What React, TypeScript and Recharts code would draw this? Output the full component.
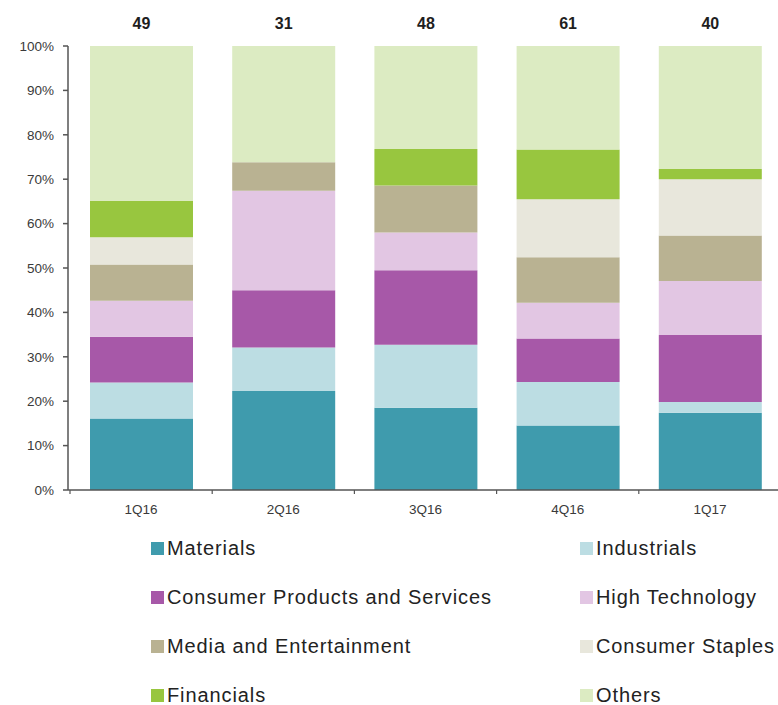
import React from "react";
import { BarChart, Bar, XAxis, YAxis, Legend, LabelList } from "recharts";

const QUARTERS = ["1Q16", "2Q16", "3Q16", "4Q16", "1Q17"];
const DEAL_COUNTS = [49, 31, 48, 61, 40];

const SERIES = [
  "Materials",
  "Industrials",
  "Consumer Products and Services",
  "High Technology",
  "Media and Entertainment",
  "Consumer Staples",
  "Financials",
  "Others",
];
const COLORS = [
  "#3f9bad",
  "#bcdde3",
  "#a758a8",
  "#e2c6e3",
  "#b9b292",
  "#e8e7dc",
  "#98c63f",
  "#dcebc2",
];

const MATERIALS = [16.1, 22.3, 18.5, 14.5, 17.4];
const INDUSTRIALS = [8.1, 9.8, 14.2, 9.8, 2.4];
const CONSUMER_PRODUCTS = [10.3, 12.9, 16.8, 9.8, 15.1];
const HIGH_TECH = [8.1, 22.4, 8.5, 8.1, 12.2];
const MEDIA = [8.2, 6.4, 10.6, 10.2, 10.2];
const CONSUMER_STAPLES = [6.1, 0, 0, 13.1, 12.7];
const FINANCIALS = [8.2, 0, 8.2, 11.2, 2.3];
const OTHERS = [34.9, 26.2, 23.2, 23.3, 27.7];

const SERIES_VALUES = [
  MATERIALS,
  INDUSTRIALS,
  CONSUMER_PRODUCTS,
  HIGH_TECH,
  MEDIA,
  CONSUMER_STAPLES,
  FINANCIALS,
  OTHERS,
];

const Y_TICKS = [0, 10, 20, 30, 40, 50, 60, 70, 80, 90, 100];

const data = QUARTERS.map((q, i) => {
  const row: Record<string, number | string> = { quarter: q, count: DEAL_COUNTS[i] };
  SERIES.forEach((s, j) => {
    row[s] = SERIES_VALUES[j][i];
  });
  return row;
});

const CHART_W = 781;
const CHART_H = 705;
const Y_AXIS_W = 68;
const X_PAD_LEFT = 2;
const BAND = (CHART_W - Y_AXIS_W - X_PAD_LEFT) / QUARTERS.length;

const FONT = "'Liberation Sans', Arial, sans-serif";

const XTick = (props: any) => {
  const { x, y, payload } = props;
  return (
    <g>
      <line x1={x - BAND / 2} x2={x - BAND / 2} y1={y} y2={y + 4} stroke="#555" strokeWidth={1.2} />
      <text x={x} y={y + 24} textAnchor="middle" fontSize={13.5} fill="#3a3a3a" fontFamily={FONT}>
        {payload.value}
      </text>
    </g>
  );
};

const TopLabel = (props: any) => {
  const { x, y, width, value } = props;
  return (
    <text
      x={x + width / 2}
      y={y - 17}
      textAnchor="middle"
      fontSize={16}
      fontWeight="bold"
      fill="#1e1e1e"
      fontFamily={FONT}
    >
      {value}
    </text>
  );
};

const LegendContent = () => (
  <div
    style={{
      display: "grid",
      gridTemplateColumns: "429px 200px",
      gridAutoRows: "49px",
      paddingLeft: 151,
      fontFamily: FONT,
      fontSize: 20,
      letterSpacing: 0.9,
      color: "#222",
    }}
  >
    {SERIES.map((s, i) => (
      <div key={s} style={{ display: "flex", alignItems: "center", whiteSpace: "nowrap" }}>
        <span
          style={{
            display: "inline-block",
            width: 13,
            height: 13,
            background: COLORS[i],
            marginRight: 3,
          }}
        />
        <span>{s}</span>
      </div>
    ))}
  </div>
);

export default function App() {
  return (
    <div style={{ width: 778, height: 705, overflow: "hidden", position: "relative", background: "#fff" }}>
      <style>{`body{margin:0}`}</style>
      <BarChart
        width={CHART_W}
        height={CHART_H}
        data={data}
        margin={{ top: 46, right: 0, left: 0, bottom: 185 }}
        barSize={103}
      >
        <XAxis
          dataKey="quarter"
          tickLine={false}
          tickSize={0}
          tickMargin={0}
          padding={{ left: X_PAD_LEFT, right: 0 }}
          axisLine={{ stroke: "#555", strokeWidth: 1.5 }}
          tick={<XTick />}
          interval={0}
        />
        <YAxis
          width={Y_AXIS_W}
          domain={[0, 100]}
          ticks={Y_TICKS}
          interval={0}
          tickFormatter={(v: number) => `${v}%`}
          tickSize={5}
          tickMargin={9}
          axisLine={{ stroke: "#555", strokeWidth: 1.5 }}
          tickLine={{ stroke: "#555", strokeWidth: 1.5 }}
          tick={{ fontSize: 13.5, fill: "#3a3a3a", fontFamily: FONT }}
        />
        <Legend
          verticalAlign="middle"
          align="center"
          layout="horizontal"
          content={<LegendContent />}
          wrapperStyle={{ position: "absolute", top: 524, left: 0, width: 778 }}
        />
        {SERIES.map((s, i) => (
          <Bar key={s} dataKey={s} stackId="a" fill={COLORS[i]} isAnimationActive={false}>
            {i === SERIES.length - 1 ? <LabelList dataKey="count" content={<TopLabel />} /> : null}
          </Bar>
        ))}
      </BarChart>
    </div>
  );
}
